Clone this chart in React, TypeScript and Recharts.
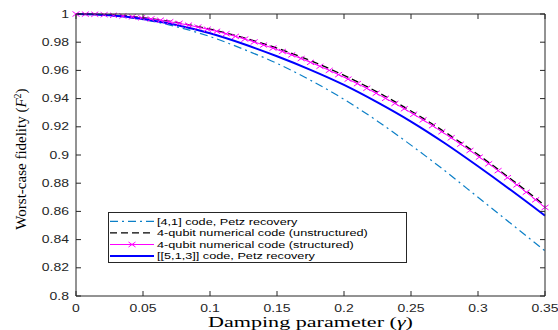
import React from 'react'
import { LineChart, Line, XAxis, YAxis, Label } from 'recharts'

// damping parameter grid (coarse) and the three curves without markers
const gammaCoarse = [0, 0.025, 0.05, 0.075, 0.1, 0.125, 0.15, 0.175, 0.2, 0.225, 0.25, 0.275, 0.3, 0.325, 0.35]
const fidelity41Petz = [1, 0.999, 0.996, 0.991, 0.984, 0.975, 0.965, 0.953, 0.9395, 0.924, 0.907, 0.889, 0.87, 0.851, 0.832]
const fidelityUnstructured = [1, 0.9995, 0.9974, 0.994, 0.9893, 0.9832, 0.9758, 0.9669, 0.9565, 0.9446, 0.9312, 0.9165, 0.9003, 0.8827, 0.8641]
const fidelity513Petz = [1, 0.9991, 0.9965, 0.9922, 0.9863, 0.9787, 0.97, 0.9604, 0.9497, 0.9373, 0.9237, 0.9085, 0.892, 0.8748, 0.857]

// the structured code is plotted with markers, on a finer grid
const gammaFine = [
  0, 0.007, 0.014, 0.021, 0.028, 0.035, 0.042, 0.049, 0.056, 0.063, 0.07, 0.077, 0.084, 0.091, 0.098, 0.105, 0.112,
  0.119, 0.126, 0.133, 0.14, 0.147, 0.154, 0.161, 0.168, 0.175, 0.182, 0.189, 0.196, 0.203, 0.21, 0.217, 0.224, 0.231,
  0.238, 0.245, 0.252, 0.259, 0.266, 0.273, 0.28, 0.287, 0.294, 0.301, 0.308, 0.315, 0.322, 0.329, 0.336, 0.343, 0.35,
]
const fidelityStructured = [
  1, 0.9999, 0.9998, 0.9995, 0.9991, 0.9986, 0.998, 0.9973, 0.9965, 0.9956, 0.9945, 0.9934, 0.9921, 0.9907, 0.9892,
  0.9877, 0.986, 0.9841, 0.9822, 0.9802, 0.978, 0.9758, 0.9734, 0.971, 0.9684, 0.9657, 0.9629, 0.96, 0.957, 0.9538,
  0.9506, 0.9473, 0.9438, 0.9402, 0.9366, 0.9328, 0.9289, 0.9249, 0.9208, 0.9165, 0.9122, 0.9077, 0.9032, 0.8985,
  0.8938, 0.8889, 0.8839, 0.8788, 0.8736, 0.8682, 0.8628,
]

const xTicks = [0, 0.05, 0.1, 0.15, 0.2, 0.25, 0.3, 0.35]
const yTicks = [0.8, 0.82, 0.84, 0.86, 0.88, 0.9, 0.92, 0.94, 0.96, 0.98, 1]

const toPoints = (xs: number[], ys: number[]) => xs.map((g, i) => ({ g, f: ys[i] }))

const W = 558
const H = 330
const MARGIN = { top: 14, right: 13, bottom: 0, left: 0 }
const Y_AXIS_W = 76
const X_AXIS_H = 34
const X_DOMAIN = [0, 0.35]
const Y_DOMAIN = [0.8, 1]

// plot box, same numbers that recharts lays out from
const box = {
  left: MARGIN.left + Y_AXIS_W,
  top: MARGIN.top,
  right: W - MARGIN.right,
  bottom: H - MARGIN.bottom - X_AXIS_H,
}

const AXIS = '#262626'
const SANS = 'Liberation Sans, Arial, sans-serif'
const SERIF = 'Liberation Serif, Times New Roman, serif'
const STRETCH = 1.4
const TICK = 5

const structuredData = toPoints(gammaFine, fidelityStructured)

const series = [
  { name: '[4,1] code, Petz recovery', data: toPoints(gammaCoarse, fidelity41Petz), stroke: '#0b7fc7', width: 1.2, dash: '8 4 2 4', marker: false },
  { name: '4-qubit numerical code (unstructured)', data: toPoints(gammaCoarse, fidelityUnstructured), stroke: '#000000', width: 1.3, dash: '7 4', marker: false },
  // this one uses the chart-level data
  { name: '4-qubit numerical code (structured)', data: undefined, stroke: '#ff00ff', width: 1, dash: undefined, marker: true },
  { name: '[[5,1,3]] code, Petz recovery', data: toPoints(gammaCoarse, fidelity513Petz), stroke: '#0000ff', width: 2, dash: undefined, marker: false },
]

const cross = (cx: number, cy: number) =>
  `M${cx - 3.5},${cy - 2.5}L${cx + 3.5},${cy + 2.5}M${cx - 3.5},${cy + 2.5}L${cx + 3.5},${cy - 2.5}`

const renderCross = (p: any) => (
  <path key={`mk-${p.index}`} d={cross(p.cx, p.cy)} stroke="#ff00ff" strokeWidth={1} fill="none" />
)

const renderXTick = (p: any) => (
  <text transform={`translate(${p.x},${p.y}) scale(${STRETCH},1)`} textAnchor="middle" fontSize={10} fontFamily={SANS} fill={AXIS}>
    {p.payload.value}
  </text>
)

const renderYTick = (p: any) => (
  <text transform={`translate(${p.x},${p.y}) scale(${STRETCH},1)`} textAnchor="end" dy={3.5} fontSize={10} fontFamily={SANS} fill={AXIS}>
    {p.payload.value}
  </text>
)

const renderXLabel = (p: any) => {
  const vb = p.viewBox
  return (
    <text x={vb.x + vb.width / 2} y={vb.y + 31} textAnchor="middle" fontSize={14.5} fontFamily={SERIF} fill="#000" textLength={205} lengthAdjust="spacingAndGlyphs">
      Damping parameter (<tspan fontStyle="italic">γ</tspan>)
    </text>
  )
}

const renderYLabel = (p: any) => {
  const vb = p.viewBox
  const cy = vb.y + vb.height / 2 + 4
  return (
    <text transform={`translate(26,${cy}) rotate(-90)`} textAnchor="middle" fontSize={15} fontFamily={SERIF} fill="#000">
      Worst-case fidelity (<tspan fontStyle="italic">F</tspan>
      <tspan dy={-5} fontSize={10}>2</tspan>
      <tspan dy={5}>)</tspan>
    </text>
  )
}

// top and right sides of the MATLAB-style box, ticks pointing inward
function BoxFrame() {
  const px = (t: number) => box.left + ((t - X_DOMAIN[0]) / (X_DOMAIN[1] - X_DOMAIN[0])) * (box.right - box.left)
  const py = (t: number) => box.bottom - ((t - Y_DOMAIN[0]) / (Y_DOMAIN[1] - Y_DOMAIN[0])) * (box.bottom - box.top)
  return (
    <svg width={W} height={H} style={{ position: 'absolute', left: 0, top: 0, pointerEvents: 'none' }}>
      <line x1={box.left} x2={box.right} y1={box.top} y2={box.top} stroke={AXIS} strokeWidth={1} />
      <line x1={box.right} x2={box.right} y1={box.top} y2={box.bottom} stroke={AXIS} strokeWidth={1} />
      {xTicks.map((t) => (
        <line key={`tt-${t}`} x1={px(t)} x2={px(t)} y1={box.top} y2={box.top + TICK} stroke={AXIS} strokeWidth={1} />
      ))}
      {yTicks.map((t) => (
        <line key={`rt-${t}`} x1={box.right} x2={box.right - TICK} y1={py(t)} y2={py(t)} stroke={AXIS} strokeWidth={1} />
      ))}
    </svg>
  )
}

function LegendBox() {
  return (
    <svg width={300} height={52} style={{ display: 'block' }}>
      <rect x={0.5} y={0.5} width={298} height={50} fill="#fff" stroke={AXIS} strokeWidth={1} />
      {series.map((s, i) => {
        const cy = 9.3 + i * 11.6
        return (
          <g key={s.name}>
            <line x1={2} x2={46} y1={cy} y2={cy} stroke={s.stroke} strokeWidth={s.width} strokeDasharray={s.dash} />
            {s.marker && <path d={cross(24, cy)} stroke={s.stroke} strokeWidth={1} fill="none" />}
            <text transform={`translate(49,${cy + 3.3}) scale(1.38,1)`} fontSize={9.2} fontFamily={SANS} fill="#000">
              {s.name}
            </text>
          </g>
        )
      })}
    </svg>
  )
}

export default function App() {
  return (
    <div style={{ position: 'absolute', left: 0, top: 0, width: W, height: H, background: '#fff' }}>
      <LineChart width={W} height={H} data={structuredData} margin={MARGIN}>
        <XAxis
          dataKey="g"
          type="number"
          domain={X_DOMAIN}
          ticks={xTicks}
          height={X_AXIS_H}
          tickSize={-TICK}
          tickMargin={21}
          stroke={AXIS}
          tick={renderXTick}
          interval={0}
        >
          <Label content={renderXLabel} />
        </XAxis>
        <YAxis
          type="number"
          domain={Y_DOMAIN}
          ticks={yTicks}
          width={Y_AXIS_W}
          tickSize={-TICK}
          tickMargin={12}
          stroke={AXIS}
          tick={renderYTick}
          interval={0}
        >
          <Label content={renderYLabel} />
        </YAxis>
        {series.map((s) => (
          <Line
            key={s.name}
            data={s.data}
            dataKey="f"
            name={s.name}
            type="monotone"
            stroke={s.stroke}
            strokeWidth={s.width}
            strokeDasharray={s.dash}
            dot={s.marker ? renderCross : false}
            activeDot={false}
            isAnimationActive={false}
          />
        ))}
      </LineChart>
      <BoxFrame />
      <div style={{ position: 'absolute', left: 108, top: 212 }}>
        <LegendBox />
      </div>
    </div>
  )
}
